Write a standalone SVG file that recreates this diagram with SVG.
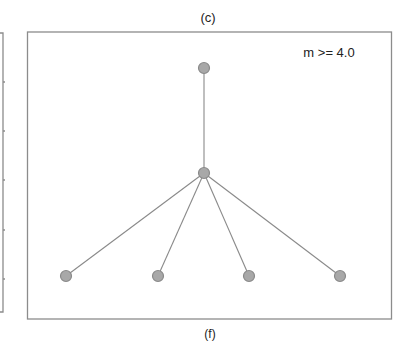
<svg xmlns="http://www.w3.org/2000/svg" width="393" height="341" viewBox="0 0 393 341">
<style>
.frame{fill:none;stroke:#8c8c8c;stroke-width:1.3}
.edge{stroke:#8a8a8a;stroke-width:1.1;fill:none}
.node{fill:#a8a8a8;stroke:#8a8a8a;stroke-width:1.2}
.lbl{font-family:"Liberation Sans",Arial,sans-serif;fill:#222}
</style>
<rect width="393" height="341" fill="#ffffff"/>
<g id="left-panel-edge">
<polyline class="frame" points="0,33 3,33 3,312 0,312"/>
<path class="frame" d="M3 82h2M3 131h2M3 180h2M3 230h2M3 279h2" stroke-width="1"/>
</g>
<rect class="frame" x="27.5" y="32" width="364" height="287"/>
<text class="lbl" x="208" y="22" font-size="13" text-anchor="middle">(c)</text>
<text class="lbl" x="329" y="57" font-size="13" text-anchor="middle">m &gt;= 4.0</text>
<text class="lbl" x="210" y="337.5" font-size="12" text-anchor="middle">(f)</text>
<g id="connectors">
<line class="edge" x1="204" y1="68" x2="204" y2="173"/>
<line class="edge" x1="204" y1="173" x2="66" y2="276"/>
<line class="edge" x1="204" y1="173" x2="158" y2="276"/>
<line class="edge" x1="204" y1="173" x2="249" y2="276"/>
<line class="edge" x1="204" y1="173" x2="340" y2="276"/>
</g>
<g id="n-top"><circle class="node" cx="204" cy="68" r="5.5"/></g>
<g id="n-center"><circle class="node" cx="204" cy="173" r="5.5"/></g>
<g id="n-b1"><circle class="node" cx="66" cy="276" r="5.5"/></g>
<g id="n-b2"><circle class="node" cx="158" cy="276" r="5.5"/></g>
<g id="n-b3"><circle class="node" cx="249" cy="276" r="5.5"/></g>
<g id="n-b4"><circle class="node" cx="340" cy="276" r="5.5"/></g>
</svg>
